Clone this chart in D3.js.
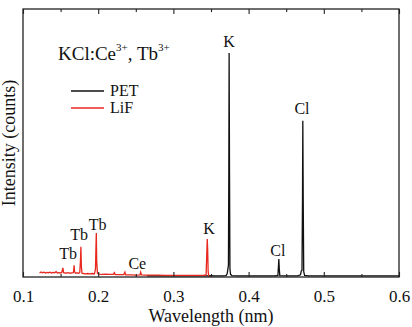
<!DOCTYPE html>
<html>
<head>
<meta charset="utf-8">
<script src="https://cdn.jsdelivr.net/npm/d3@7"></script>
<style>
  body { margin: 0; background: #fff; }
  svg, svg text { font-family: "Liberation Serif", "Times New Roman", Times, "DejaVu Serif", serif; }
</style>
</head>
<body>
<div id="chart"></div>
<script>
// LiF crystal spectrum [wavelength nm, intensity]
const lifData = [
  [0.122, 15], [0.124, 19], [0.126, 16], [0.128, 18], [0.130, 15], [0.132, 17],
  [0.134, 16], [0.136, 18], [0.138, 15], [0.140, 17], [0.142, 16], [0.144, 20],
  [0.146, 15], [0.148, 16], [0.150, 15], [0.1515, 17], [0.1530, 34], [0.1540, 16],
  [0.1555, 15], [0.157, 14], [0.159, 16], [0.161, 15], [0.163, 14], [0.165, 15],
  [0.1670, 16], [0.1675, 30], [0.1680, 44], [0.1685, 20], [0.170, 14], [0.172, 15],
  [0.174, 14], [0.1755, 17], [0.1764, 60], [0.1770, 113], [0.1776, 40], [0.1785, 14],
  [0.180, 13], [0.183, 12], [0.186, 13], [0.189, 12], [0.192, 13], [0.195, 12],
  [0.1964, 30], [0.1970, 110], [0.1975, 164], [0.1980, 60], [0.1990, 14], [0.201, 11],
  [0.205, 10], [0.210, 11], [0.215, 10], [0.220, 10], [0.2215, 16], [0.2225, 9],
  [0.226, 9], [0.230, 9], [0.234, 9], [0.2355, 18], [0.2365, 8], [0.240, 8],
  [0.245, 8], [0.250, 7], [0.2555, 8], [0.2565, 18], [0.2575, 8], [0.262, 7],
  [0.270, 7], [0.280, 7], [0.290, 6], [0.300, 6], [0.310, 6], [0.320, 6],
  [0.330, 6], [0.340, 6], [0.3435, 8], [0.3443, 80], [0.3450, 142], [0.3456, 100],
  [0.3462, 20], [0.3470, 4], [0.3480, 3]
];

// PET crystal spectrum [wavelength nm, intensity]
const petData = [
  [0.265, 4], [0.280, 4], [0.300, 4], [0.320, 4], [0.340, 4], [0.346, 4],
  [0.348, 5], [0.355, 4], [0.365, 4], [0.370, 5], [0.3715, 12], [0.3725, 30],
  [0.3732, 45], [0.3737, 400], [0.3741, 836], [0.3746, 400], [0.3752, 30], [0.3760, 10],
  [0.378, 5], [0.385, 4], [0.400, 4], [0.420, 4], [0.435, 4], [0.4390, 6],
  [0.4397, 40], [0.4402, 67], [0.4408, 30], [0.4415, 5], [0.450, 4], [0.465, 4],
  [0.4690, 8], [0.4700, 22], [0.4710, 25], [0.4717, 300], [0.4721, 583], [0.4726, 300],
  [0.4733, 20], [0.4745, 6], [0.480, 4], [0.500, 4], [0.550, 4], [0.600, 4]
];

// peak labels [text, wavelength, intensity]
const peakLabels = [
  ["K", 0.374, 860], ["Cl", 0.471, 608], ["K", 0.3473, 160], ["Cl", 0.439, 78],
  ["Ce", 0.252, 30], ["Tb", 0.1993, 177], ["Tb", 0.1745, 138], ["Tb", 0.160, 67]
];

const majorTicks = [0.1, 0.2, 0.3, 0.4, 0.5, 0.6];
const minorTicks = [0.15, 0.25, 0.35, 0.45, 0.55];
const seriesNames = ["PET", "LiF"];
const seriesColors = ["#111111", "#e8281e"];

const FONT = '"Liberation Serif", "Times New Roman", Times, "DejaVu Serif", serif';
const W = 412, H = 327;
const plot = {left: 23, right: 399, top: 9, bottom: 277};

const svg = d3.select("#chart").append("svg")
  .attr("width", W)
  .attr("height", H)
  .style("font-family", FONT);

const x = d3.scaleLinear().domain([0.1, 0.6]).range([plot.left, plot.right]);
const y = d3.scaleLinear().domain([0, 1000]).range([plot.bottom, plot.top]);

// spectra
const line = d3.line()
  .x(d => x(d[0]))
  .y(d => y(d[1]));

svg.append("path")
  .datum(petData)
  .attr("fill", "none")
  .attr("stroke", seriesColors[0])
  .attr("stroke-width", 1.3)
  .attr("d", line);

svg.append("path")
  .datum(lifData)
  .attr("fill", "none")
  .attr("stroke", seriesColors[1])
  .attr("stroke-width", 1.3)
  .attr("d", line);

// frame + axes
const axisColor = "#222";
function styleAxis(g) {
  g.attr("font-family", null);
  g.select(".domain").remove();
  g.selectAll(".tick line").attr("stroke", axisColor).attr("stroke-width", 1.1);
}

svg.append("g")
  .attr("transform", `translate(0,${plot.bottom})`)
  .call(d3.axisBottom(x).tickValues(majorTicks).tickSize(-5).tickPadding(13).tickFormat(d3.format(".1f")))
  .call(styleAxis)
  .selectAll("text")
  .attr("fill", "#111")
  .attr("font-size", 17)
  .style("font-family", FONT);

svg.append("g")
  .attr("transform", `translate(0,${plot.bottom})`)
  .call(d3.axisBottom(x).tickValues(minorTicks).tickSize(-3).tickFormat(""))
  .call(styleAxis);

svg.append("g")
  .attr("transform", `translate(0,${plot.top})`)
  .call(d3.axisTop(x).tickValues(majorTicks).tickSize(-5).tickFormat(""))
  .call(styleAxis);

svg.append("g")
  .attr("transform", `translate(0,${plot.top})`)
  .call(d3.axisTop(x).tickValues(minorTicks).tickSize(-3).tickFormat(""))
  .call(styleAxis);

svg.append("rect")
  .attr("x", plot.left)
  .attr("y", plot.top)
  .attr("width", plot.right - plot.left)
  .attr("height", plot.bottom - plot.top)
  .attr("fill", "none")
  .attr("stroke", axisColor)
  .attr("stroke-width", 1.3);

// axis titles
svg.append("text")
  .attr("x", (plot.left + plot.right) / 2)
  .attr("y", 322)
  .attr("text-anchor", "middle")
  .attr("font-size", 18)
  .attr("fill", "#111")
  .text("Wavelength (nm)");

svg.append("text")
  .attr("transform", `translate(15,${(plot.top + plot.bottom) / 2}) rotate(-90)`)
  .attr("text-anchor", "middle")
  .attr("font-size", 18)
  .attr("fill", "#111")
  .text("Intensity (counts)");

// peak labels
svg.append("g").selectAll("text")
  .data(peakLabels)
  .join("text")
  .attr("x", d => x(d[1]))
  .attr("y", d => y(d[2]))
  .attr("text-anchor", "middle")
  .attr("font-size", 16)
  .attr("fill", "#111")
  .text(d => d[0]);

// sample title with superscripts
const title = svg.append("text")
  .attr("x", 58)
  .attr("y", 60)
  .attr("font-size", 19)
  .attr("fill", "#111");
title.append("tspan").text("KCl:Ce");
title.append("tspan").attr("dy", -9).attr("font-size", 11).text("3+");
title.append("tspan").attr("dy", 9).text(", Tb");
title.append("tspan").attr("dy", -9).attr("font-size", 11).text("3+");

// legend
const legend = svg.append("g");
seriesNames.forEach((name, i) => {
  const ly = 91 + i * 17;
  legend.append("line")
    .attr("x1", 71).attr("x2", 104)
    .attr("y1", ly).attr("y2", ly)
    .attr("stroke", seriesColors[i])
    .attr("stroke-width", 1.3);
  legend.append("text")
    .attr("x", 110)
    .attr("y", ly + 5)
    .attr("font-size", 16)
    .attr("fill", "#111")
    .text(name);
});
</script>
</body>
</html>
